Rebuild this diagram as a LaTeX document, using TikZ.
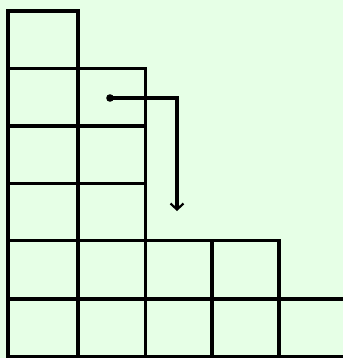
\documentclass[tikz,border=0pt]{standalone}
\usepackage{tikz}
\usetikzlibrary{arrows.meta}
\definecolor{mint}{HTML}{E6FFE6}

\begin{document}
\begin{tikzpicture}[x=1bp,y=-1bp,line width=3.3bp,line cap=rect,>={Straight Barb[length=6bp,width=13bp,line width=2.2bp]}]
\fill[mint] (0,0) rectangle (343,358);
\useasboundingbox (0,0) rectangle (343,358);
% rows of the diagram
\foreach \y/\len in {11/78,68.5/145.5,126/145.5,183.5/145.5,240.5/279,299/350,357/350}
  \draw (8,\y) -- (\len,\y);
% columns
\foreach \x/\top in {8/11,78/11,145.5/68.5,212/240.5,279/240.5}
  \draw (\x,\top) -- (\x,357);
% the move
\coordinate (dot) at (110,98);
\coordinate (tip) at (177,211);
\fill (dot) circle (3.8);
\draw[->,line cap=butt] (dot) -| (tip);
\end{tikzpicture}
\end{document}
